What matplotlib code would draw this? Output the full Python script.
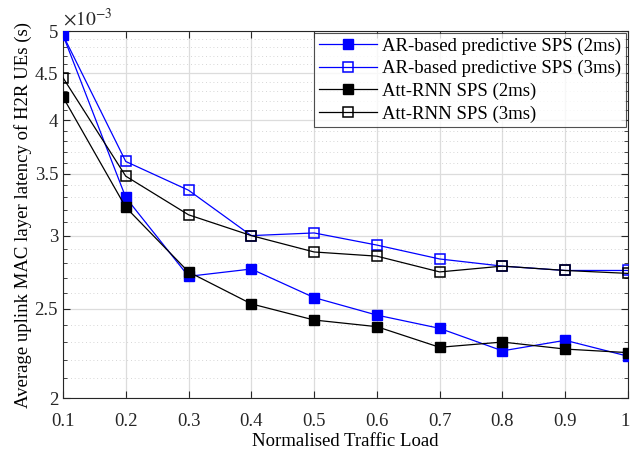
import matplotlib
matplotlib.use("Agg")
import matplotlib.pyplot as plt
import matplotlib.transforms as mtransforms
from matplotlib.ticker import FixedLocator, NullFormatter

plt.rcParams['font.family'] = ['Liberation Serif', 'DejaVu Serif']
plt.rcParams['mathtext.fontset'] = 'stix'

# traffic load
load = [0.1, 0.2, 0.3, 0.4, 0.5, 0.6, 0.7, 0.8, 0.9, 1.0]

# latency in seconds
ar_2ms = [4.95e-3, 3.30e-3, 2.71e-3, 2.76e-3, 2.57e-3, 2.46e-3, 2.38e-3, 2.25e-3, 2.31e-3, 2.22e-3]
ar_3ms = [4.95e-3, 3.61e-3, 3.36e-3, 3.00e-3, 3.02e-3, 2.93e-3, 2.83e-3, 2.78e-3, 2.75e-3, 2.75e-3]
rnn_2ms = [4.24e-3, 3.22e-3, 2.74e-3, 2.53e-3, 2.43e-3, 2.39e-3, 2.27e-3, 2.30e-3, 2.26e-3, 2.24e-3]
rnn_3ms = [4.45e-3, 3.48e-3, 3.16e-3, 3.00e-3, 2.88e-3, 2.85e-3, 2.74e-3, 2.78e-3, 2.75e-3, 2.73e-3]

labels = ['AR-based predictive SPS (2ms)', 'AR-based predictive SPS (3ms)',
          'Att-RNN SPS (2ms)', 'Att-RNN SPS (3ms)']

yticks = [2e-3, 2.5e-3, 3e-3, 3.5e-3, 4e-3, 4.5e-3, 5e-3]
yticklabels = ['2', '2.5', '3', '3.5', '4', '4.5', '5']
xticks = [0.1, 0.2, 0.3, 0.4, 0.5, 0.6, 0.7, 0.8, 0.9, 1.0]
xticklabels = ['0.1', '0.2', '0.3', '0.4', '0.5', '0.6', '0.7', '0.8', '0.9', '1']

fs = 13.5

fig = plt.figure(figsize=(6.31, 4.54), dpi=100)
ax = fig.add_axes([0.0998, 0.1233, 0.8954, 0.8084])

ms = 7.5
lw = 0.9
ax.plot(load, ar_2ms, color='blue', marker='s', ms=ms, mfc='blue', mec='blue', lw=lw, label=labels[0], zorder=3)
ax.plot(load, ar_3ms, color='blue', marker='s', ms=ms, mfc='none', mec='blue', mew=1.1, lw=lw, label=labels[1], zorder=3)
ax.plot(load, rnn_2ms, color='black', marker='s', ms=ms, mfc='black', mec='black', lw=lw, label=labels[2], zorder=3)
ax.plot(load, rnn_3ms, color='black', marker='s', ms=ms, mfc='none', mec='black', mew=1.1, lw=lw, label=labels[3], zorder=3)

ax.set_yscale('log')
ax.set_ylim(2e-3, 5e-3)
ax.set_xlim(0.1, 1.0)

ax.yaxis.set_major_locator(FixedLocator(yticks))
ax.set_yticklabels(yticklabels)
minor = [v * 1e-4 for v in range(21, 50) if v % 5 != 0]
ax.yaxis.set_minor_locator(FixedLocator(minor))
ax.yaxis.set_minor_formatter(NullFormatter())
ax.set_xticks(xticks)
ax.set_xticklabels(xticklabels)

ax.grid(True, which='major', color='#dcdcdc', lw=0.9, ls='-')
ax.grid(True, which='minor', axis='y', color='#c8c8c8', lw=0.6, ls=(0, (1, 3.5)))
ax.set_axisbelow(True)

ax.tick_params(which='both', direction='in', top=True, right=True, labelsize=fs, colors='#262626')
ax.tick_params(which='major', length=5)
ax.tick_params(which='minor', length=3)
ax.tick_params(axis='x', pad=11)
for s in ax.spines.values():
    s.set_color('#262626')
    s.set_linewidth(0.8)

# keep the last x label inside the figure
last = ax.get_xticklabels()[-1]
last.set_transform(last.get_transform() + mtransforms.ScaledTranslation(-3 / 100, 0, fig.dpi_scale_trans))

ax.set_xlabel('Normalised Traffic Load', fontsize=fs, labelpad=2)
ax.set_ylabel('Average uplink MAC layer latency of H2R UEs (s)', fontsize=fs, labelpad=2)
ax.text(0.0, 1.005, r'$\times 10^{-3}$', transform=ax.transAxes, fontsize=fs + 0.5,
        ha='left', va='bottom', color='#262626')

leg = ax.legend(loc='upper right', fontsize=fs, frameon=True, fancybox=False,
                borderaxespad=0.1, handlelength=3.1, labelspacing=0.28,
                borderpad=0.25, handletextpad=0.3, edgecolor='#262626')
leg.get_frame().set_linewidth(0.8)

fig.savefig('out.png', dpi=100)
